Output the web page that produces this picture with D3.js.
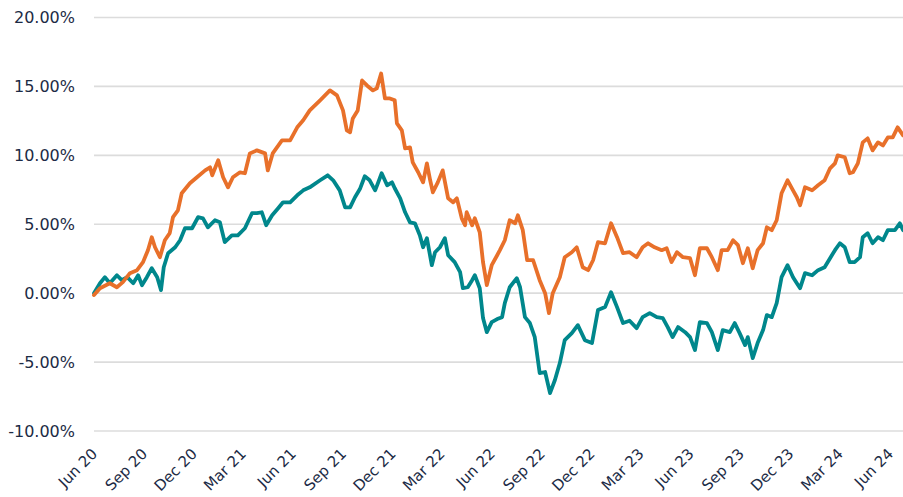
<!DOCTYPE html>
<html>
<head>
<meta charset="utf-8">
<script src="https://cdn.jsdelivr.net/npm/d3@7"></script>
<style>
  html, body { margin: 0; padding: 0; background: #ffffff; }
  svg { display: block; }
  text { font-family: "DejaVu Sans", sans-serif; fill: #1c2b45; }
</style>
</head>
<body>
<svg id="chart" width="903" height="497"></svg>
<script>
// Day offsets from 1 Jun 2020, cumulative return (%)
const startDate = new Date(2020, 5, 1);

const orangeSeries = [
  [0,-0.14],[11,0.36],[29,0.72],[42,0.43],[53,0.80],[66,1.45],[79,1.67],[90,2.25],[99,3.12],[106,4.06],
  [112,3.33],[121,2.61],[130,3.84],[139,4.35],[145,5.51],[154,6.01],[161,7.25],[176,7.97],[189,8.41],[204,8.91],
  [213,9.13],[217,8.55],[228,9.64],[237,8.41],[246,7.68],[255,8.41],[268,8.77],[277,8.70],[286,10.14],[299,10.36],
  [314,10.14],[319,8.91],[328,10.14],[345,11.09],[360,11.09],[373,12.03],[384,12.54],[396,13.26],[415,13.99],[433,14.71],
  [446,14.35],[457,13.26],[464,11.81],[470,11.67],[475,12.68],[484,13.26],[492,15.43],[501,15.07],[512,14.71],[519,14.86],
  [527,15.94],[534,14.13],[543,14.13],[552,13.99],[556,12.32],[565,11.81],[571,10.51],[580,10.58],[585,9.49],[595,8.77],
  [604,8.04],[611,9.42],[617,8.19],[622,7.32],[631,8.04],[640,8.91],[650,6.88],[659,6.59],[666,6.88],[675,5.43],
  [681,4.93],[684,5.87],[694,4.93],[699,5.43],[708,4.42],[714,2.25],[721,0.58],[730,2.03],[740,2.75],[745,3.12],
  [754,3.84],[763,5.29],[773,5.07],[778,5.65],[787,4.57],[795,2.39],[806,2.39],[818,0.94],[828,0.00],[835,-1.45],
  [842,0.00],[855,1.16],[864,2.61],[877,2.97],[886,3.33],[897,1.88],[907,1.67],[916,2.39],[925,3.70],[938,3.62],
  [949,5.07],[960,4.06],[971,2.90],[983,2.97],[996,2.61],[1007,3.33],[1017,3.62],[1029,3.33],[1042,3.12],[1051,3.26],
  [1060,2.25],[1070,2.97],[1081,2.61],[1094,2.54],[1103,1.30],[1112,3.26],[1125,3.26],[1134,2.61],[1145,1.67],[1152,3.12],
  [1163,3.12],[1173,3.84],[1182,3.48],[1191,2.17],[1200,3.26],[1209,1.81],[1218,3.12],[1228,3.62],[1235,4.78],[1244,4.57],
  [1253,5.29],[1262,7.25],[1273,8.19],[1283,7.46],[1290,6.96],[1296,6.38],[1305,7.68],[1318,7.46],[1329,7.83],[1341,8.19],
  [1351,9.06],[1360,9.42],[1365,10.00],[1378,9.86],[1387,8.70],[1393,8.77],[1402,9.42],[1411,10.94],[1420,11.23],[1429,10.36],
  [1439,10.94],[1448,10.72],[1457,11.30],[1466,11.30],[1475,12.03],[1485,11.45]
];

const tealSeries = [
  [0,0.00],[11,0.72],[20,1.16],[29,0.72],[42,1.30],[51,0.94],[61,1.16],[72,0.72],[81,1.30],[88,0.58],
  [97,1.16],[106,1.81],[116,1.16],[123,0.22],[128,1.88],[136,2.90],[149,3.33],[158,3.84],[167,4.71],[180,4.71],
  [191,5.51],[200,5.43],[209,4.78],[222,5.29],[231,5.14],[240,3.70],[253,4.20],[264,4.20],[277,4.71],[290,5.80],
  [299,5.80],[308,5.87],[316,4.93],[327,5.65],[338,6.16],[347,6.59],[360,6.59],[373,7.10],[384,7.46],[396,7.68],
  [415,8.19],[429,8.55],[439,8.19],[451,7.46],[461,6.23],[470,6.23],[479,6.96],[488,7.55],[497,8.48],[506,8.19],
  [516,7.46],[521,7.97],[528,8.70],[538,7.83],[547,8.04],[552,7.61],[562,6.88],[571,5.87],[580,5.14],[589,5.07],
  [598,4.20],[604,3.33],[611,3.99],[620,2.03],[626,2.97],[635,3.33],[644,3.99],[650,2.75],[662,2.25],[672,1.52],
  [677,0.36],[686,0.43],[694,0.94],[699,1.30],[708,0.36],[714,-1.81],[721,-2.83],[730,-2.10],[740,-1.88],[749,-1.74],
  [754,-0.72],[763,0.43],[776,1.09],[782,0.43],[791,-1.74],[800,-2.17],[809,-3.19],[818,-5.80],[828,-5.72],[837,-7.25],
  [846,-6.30],[855,-5.07],[864,-3.41],[877,-2.90],[888,-2.32],[901,-3.41],[914,-3.62],[925,-1.23],[938,-1.01],[949,0.07],
  [960,-1.01],[971,-2.17],[983,-2.00],[996,-2.54],[1007,-1.74],[1020,-1.45],[1033,-1.74],[1044,-1.81],[1053,-2.46],[1062,-3.19],
  [1072,-2.46],[1085,-2.83],[1094,-3.19],[1103,-4.13],[1112,-2.10],[1125,-2.17],[1134,-2.83],[1145,-4.13],[1154,-2.68],[1167,-2.83],
  [1176,-2.17],[1185,-2.90],[1195,-3.77],[1200,-3.19],[1209,-4.71],[1218,-3.62],[1228,-2.68],[1235,-1.59],[1244,-1.74],[1253,-0.72],
  [1262,1.16],[1273,2.03],[1283,1.16],[1290,0.72],[1296,0.36],[1305,1.45],[1318,1.30],[1329,1.67],[1341,1.88],[1351,2.54],
  [1360,3.12],[1369,3.62],[1378,3.33],[1387,2.25],[1396,2.25],[1406,2.61],[1411,4.06],[1420,4.35],[1429,3.62],[1439,4.06],
  [1448,3.84],[1457,4.57],[1470,4.57],[1479,5.07],[1485,4.57]
];

const yTicks = [-10, -5, 0, 5, 10, 15, 20];
const xTickDates = ["2020-06","2020-09","2020-12","2021-03","2021-06","2021-09","2021-12","2022-03","2022-06",
  "2022-09","2022-12","2023-03","2023-06","2023-09","2023-12","2024-03","2024-06"];
const xTickLabels = ["Jun 20","Sep 20","Dec 20","Mar 21","Jun 21","Sep 21","Dec 21","Mar 22","Jun 22",
  "Sep 22","Dec 22","Mar 23","Jun 23","Sep 23","Dec 23","Mar 24","Jun 24"];

const colors = { orange: "#e8702a", teal: "#00878c", grid: "#dcdcdc", text: "#1c2b45" };
const fontFamily = "'DejaVu Sans', sans-serif";

const svg = d3.select("#chart");
const plotLeft = 94, plotRight = 903;

const parseMonth = d3.timeParse("%Y-%m");
const tickDates = xTickDates.map(parseMonth);

const x = d3.scaleTime()
  .domain([tickDates[0], tickDates[tickDates.length - 1]])
  .range([94, 890]);
const y = d3.scaleLinear().domain([-10, 20]).range([431, 17.5]);

// gridlines
svg.append("g").selectAll("line").data(yTicks).join("line")
  .attr("x1", plotLeft).attr("x2", plotRight)
  .attr("y1", d => y(d)).attr("y2", d => y(d))
  .attr("stroke", colors.grid).attr("stroke-width", 1.6);

// y axis labels
const yAxis = d3.axisLeft(y).tickValues(yTicks).tickSize(0).tickPadding(19)
  .tickFormat(d => d.toFixed(2) + "%");
const gy = svg.append("g").attr("transform", `translate(${plotLeft},0)`).call(yAxis);
gy.select(".domain").remove();
gy.selectAll("text").attr("font-size", 16).attr("font-family", fontFamily).attr("fill", colors.text);

// x axis labels
const labelMap = new Map(tickDates.map((d, i) => [+d, xTickLabels[i]]));
const xAxis = d3.axisBottom(x).tickValues(tickDates).tickSize(0).tickPadding(0)
  .tickFormat(d => labelMap.get(+d));
const gx = svg.append("g").attr("transform", `translate(0,451)`).call(xAxis);
gx.select(".domain").remove();
gx.selectAll("text")
  .attr("font-size", 15)
  .attr("font-family", fontFamily)
  .attr("fill", colors.text)
  .attr("text-anchor", "end")
  .attr("dy", "0.35em")
  .attr("dx", "0")
  .attr("y", 0)
  .attr("transform", "rotate(-45)");

// lines
const line = d3.line()
  .x(d => x(d3.timeDay.offset(startDate, d[0])))
  .y(d => y(d[1]));

svg.append("path").datum(tealSeries)
  .attr("fill", "none").attr("stroke", colors.teal).attr("stroke-width", 3.8)
  .attr("stroke-linejoin", "round").attr("stroke-linecap", "round")
  .attr("d", line);

svg.append("path").datum(orangeSeries)
  .attr("fill", "none").attr("stroke", colors.orange).attr("stroke-width", 3.8)
  .attr("stroke-linejoin", "round").attr("stroke-linecap", "round")
  .attr("d", line);
</script>
</body>
</html>
